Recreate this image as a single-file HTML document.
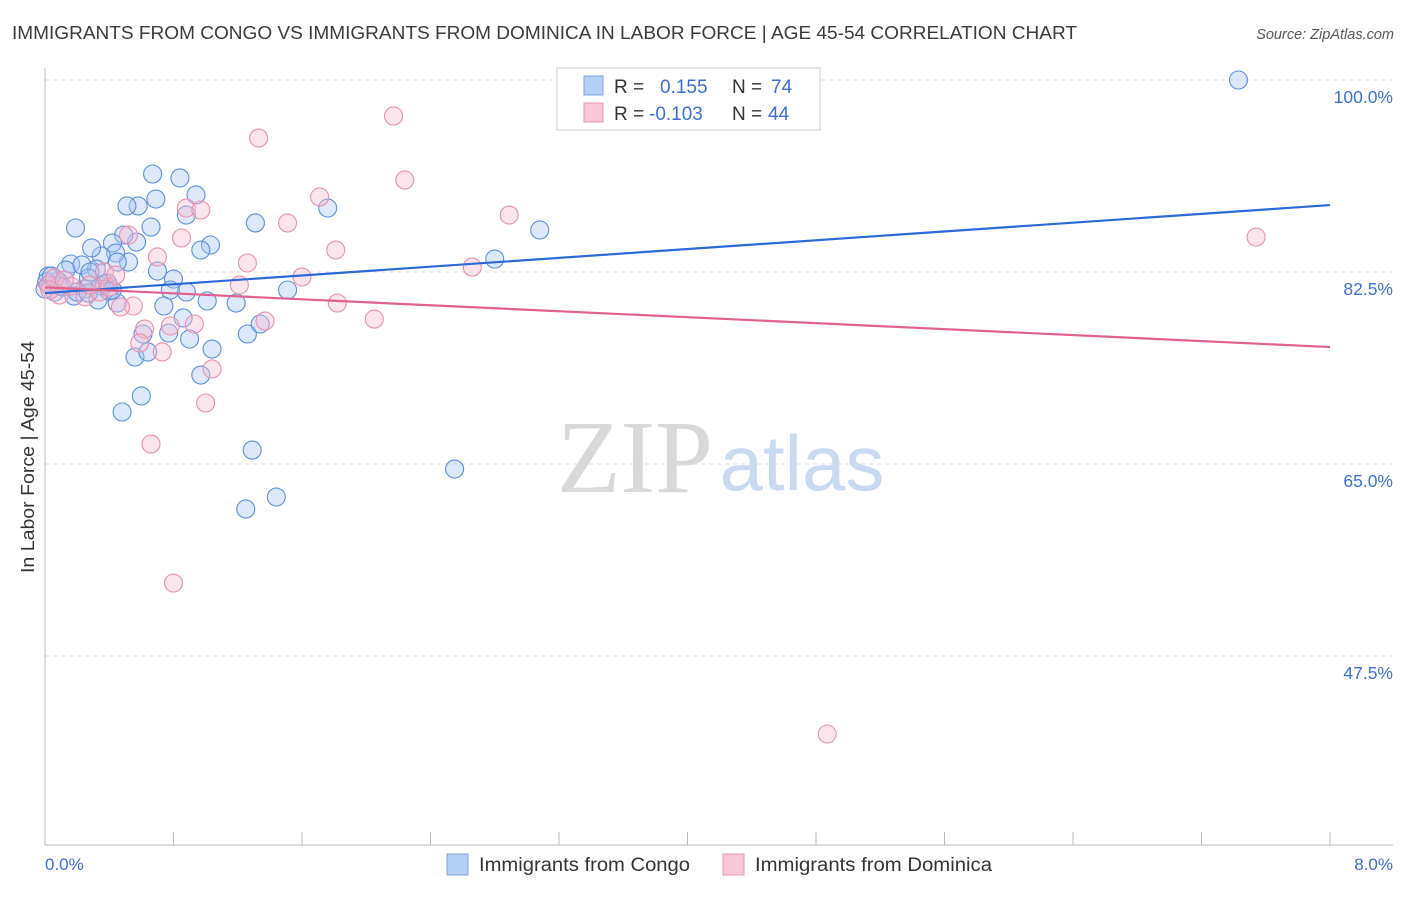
<!DOCTYPE html>
<html><head><meta charset="utf-8"><style>
body{margin:0;background:#fff;font-family:"Liberation Sans",sans-serif}
</style></head><body>
<svg width="1406" height="892" xmlns="http://www.w3.org/2000/svg" font-family="Liberation Sans, sans-serif">
<text x="12" y="39" font-size="18" textLength="1065" lengthAdjust="spacingAndGlyphs" fill="#3a3a3a">IMMIGRANTS FROM CONGO VS IMMIGRANTS FROM DOMINICA IN LABOR FORCE | AGE 45-54 CORRELATION CHART</text>
<text x="1394" y="39" font-size="14.5" fill="#555" font-style="italic" text-anchor="end">Source: ZipAtlas.com</text>
<g>
<text x="635" y="492" font-size="104" fill="#d8d8d8" font-family="Liberation Serif, serif" text-anchor="middle">ZIP</text>
<text x="802" y="490" font-size="78" fill="#c9d9ef" text-anchor="middle">atlas</text>
</g>
<g id="grid"></g>
<line x1="45" y1="68" x2="45" y2="845" stroke="#bbb"/>
<line x1="45" y1="845" x2="1393" y2="845" stroke="#bbb"/>
<g id="xticks"></g>
<text x="45" y="870" font-size="17" fill="#3b6fd4">0.0%</text>
<text x="1393" y="870" font-size="17" fill="#3b6fd4" text-anchor="end">8.0%</text>
<text transform="translate(34,457) rotate(-90)" font-size="18" textLength="232" lengthAdjust="spacingAndGlyphs" fill="#333" text-anchor="middle">In Labor Force | Age 45-54</text>
<g id="pts"></g>
<g id="lines"></g>
<g>
<rect x="557" y="68" width="263" height="62" fill="#fff" stroke="#ccc"/>
<rect x="584" y="76" width="19" height="19" fill="#b5cff5" stroke="#7aa3e0"/>
<rect x="584" y="103" width="19" height="19" fill="#f9c6d6" stroke="#e996b3"/>
<text x="614" y="93" font-size="19" fill="#333">R =</text>
<text x="660" y="93" font-size="19" fill="#3b6fd4">0.155</text>
<text x="732" y="93" font-size="19" fill="#333">N =</text>
<text x="771" y="93" font-size="19" fill="#3b6fd4">74</text>
<text x="614" y="120" font-size="19" fill="#333">R =</text>
<text x="649" y="120" font-size="19" fill="#3b6fd4">-0.103</text>
<text x="732" y="120" font-size="19" fill="#333">N =</text>
<text x="768" y="120" font-size="19" fill="#3b6fd4">44</text>
</g>
<g>
<rect x="447" y="854" width="21" height="21" fill="#b5cff5" stroke="#7aa3e0"/>
<text x="479" y="871" font-size="19" textLength="211" lengthAdjust="spacingAndGlyphs" fill="#333">Immigrants from Congo</text>
<rect x="723" y="854" width="21" height="21" fill="#f9c6d6" stroke="#e996b3"/>
<text x="755" y="871" font-size="19" textLength="237" lengthAdjust="spacingAndGlyphs" fill="#333">Immigrants from Dominica</text>
</g>
</svg>
<script>
const yTicks=[100,82.5,65,47.5];
const yTickLabels=["100.0%","82.5%","65.0%","47.5%"];
const xTickVals=[0,0.8,1.6,2.4,3.2,4,4.8,5.6,6.4,7.2,8];
const congoX=[7.43,3.08,2.80,2.55,1.76,1.51,1.44,1.25,1.29,1.31,1.26,1.34,1.19,1.01,1.03,1.04,0.97,0.97,0.94,0.88,0.84,0.90,0.86,0.88,0.80,0.78,0.77,0.74,0.70,0.69,0.67,0.66,0.58,0.51,0.57,0.52,0.49,0.42,0.44,0.35,0.29,0.32,0.19,0.16,0.23,0.27,0.13,0.08,0.03,0.02,0.06,0.18,0.25,0.33,0.39,0.40,0.45,0.56,0.60,0.48,0.64,0.61,0.35,0.11,0.01,0,0.09,0.28,0.37,0.42,0.04,0.20,0.27,0.45];
const congoY=[100,86.33,83.68,64.54,88.33,80.86,61.99,60.90,66.27,86.97,76.85,77.76,79.67,79.86,84.96,75.48,73.11,84.50,89.52,87.69,91.07,76.39,78.31,80.68,81.86,80.86,76.94,79.40,82.59,89.15,91.43,86.60,88.52,88.52,85.23,83.41,85.87,85.14,84.23,83.96,84.69,82.77,86.51,83.23,83.14,81.95,82.68,81.68,81.31,82.13,80.68,80.31,80.95,79.95,81.50,80.77,79.67,74.75,71.20,69.74,75.21,76.85,81.22,81.13,81.59,80.95,81.22,82.50,81.41,80.86,82.13,80.68,80.58,83.41];
const domX=[2.17,1.33,2.24,1.71,0.88,0.97,1.51,2.89,1.81,7.54,0.52,0.70,0.85,1.26,2.66,1.60,1.21,1.82,2.05,1.37,0.93,0.78,0.62,0.55,0.47,0.59,0.73,1.04,1.00,0.66,0.80,4.87,0.09,0.02,0.06,0.16,0.25,0.34,0.40,0.37,0.44,0.03,0.12,0.28];
const domY=[96.72,94.71,90.89,89.34,88.33,88.15,86.97,87.69,84.50,85.69,85.87,83.87,85.60,83.32,82.95,82.04,81.31,79.67,78.21,78.03,77.76,77.58,77.30,79.40,79.31,76.03,75.21,73.66,70.56,66.82,54.15,40.39,80.40,81.31,81.95,81.22,80.22,80.68,81.13,82.50,82.22,80.86,81.77,81.31];
const congoTrend=[80.58,88.6];
const domTrend=[81.1,75.66];
const NS="http://www.w3.org/2000/svg";
function sx(v){return 45+v/8*1285;}
function sy(v){return 80+(100-v)/17.5*192;}
function mk(t,a,p){const e=document.createElementNS(NS,t);for(const k in a)e.setAttribute(k,a[k]);p.appendChild(e);return e;}
const grid=document.getElementById('grid');
yTicks.forEach((v,i)=>{
 const l=mk('line',{x1:45,x2:1393,y1:sy(v),y2:sy(v),stroke:'#ddd','stroke-dasharray':'4,4'},grid);
 
 
 const t=mk('text',{x:1393,y:sy(v)+23,'font-size':17.5,fill:'#3b6fd4','text-anchor':'end'},grid);
 t.textContent=yTickLabels[i];
 
 
});
const xt=document.getElementById('xticks');
xTickVals.forEach(v=>{
 const l=mk('line',{x1:sx(v),x2:sx(v),y1:832,y2:845,stroke:'#bbb'},xt);
 
 
});
const pts=document.getElementById('pts');
function draw(X,Y,fill,stroke,name){
 X.forEach((x,i)=>{
  const c=mk('circle',{cx:sx(x),cy:sy(Y[i]),r:9,fill:fill,'fill-opacity':0.4,stroke:stroke,'stroke-width':1.1},pts);
  
  
 });
}
draw(congoX,congoY,'#a9c6f2','#5a8fdc','congo-point');
draw(domX,domY,'#f7bcd0','#ea8fab','dominica-point');
const lines=document.getElementById('lines');
const bl=mk('line',{x1:sx(0),y1:sy(congoTrend[0]),x2:sx(8),y2:sy(congoTrend[1]),stroke:'#2a6ad6','stroke-width':2.2},lines);


const pl=mk('line',{x1:sx(0),y1:sy(domTrend[0]),x2:sx(8),y2:sy(domTrend[1]),stroke:'#e0608e','stroke-width':2.2},lines);


</script>
</body></html>
